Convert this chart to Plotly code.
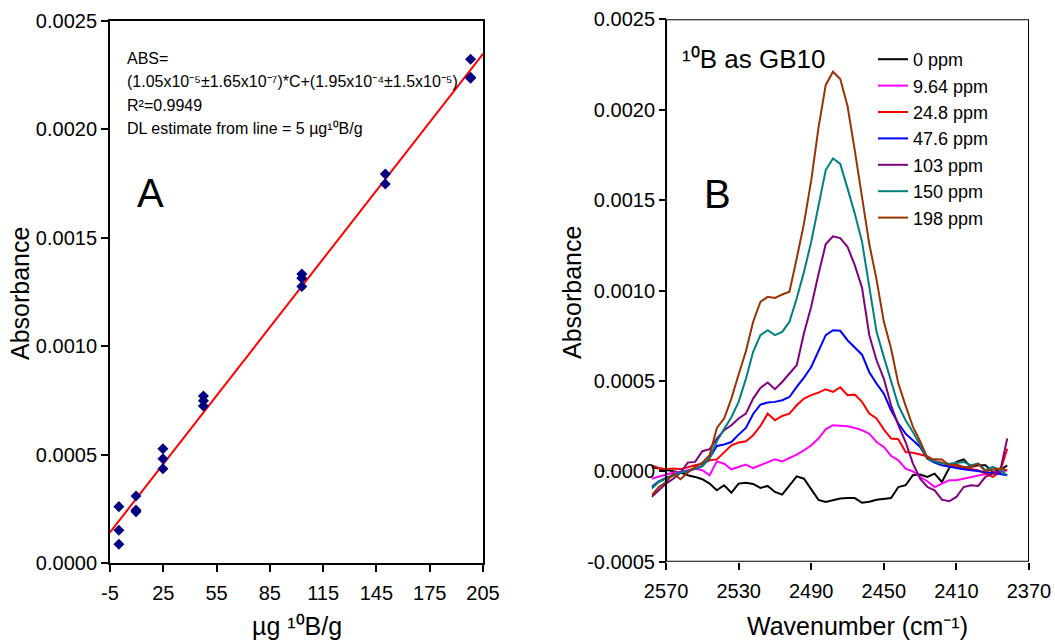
import numpy as np
import plotly.graph_objects as go

W, H = 1055, 641
FONT = "Liberation Sans, Arial, sans-serif"

# ---- Panel A: calibration points (ug 10B/g vs absorbance) ----
conc_a = [0, 0, 0, 9.64, 9.64, 9.64, 24.8, 24.8, 24.8, 47.6, 47.6, 47.6,
          103, 103, 103, 150, 150, 198, 198, 198]
abs_a = [0.000261, 0.000152, 0.0000875, 0.000310, 0.000245, 0.000238,
         0.000528, 0.000482, 0.000436, 0.000771, 0.000749, 0.000725,
         0.001333, 0.001313, 0.001275, 0.001794, 0.001748,
         0.002322, 0.002239, 0.002235]
fit_slope = 1.05e-5
fit_intercept = 1.95e-4
fit_x = [-5, 205]
a_xticks = [-5, 25, 55, 85, 115, 145, 175, 205]
a_xlabels = ["-5", "25", "55", "85", "115", "145", "175", "205"]
a_yticks = [0, 0.0005, 0.0010, 0.0015, 0.0020, 0.0025]
a_ylabels = ["0.0000", "0.0005", "0.0010", "0.0015", "0.0020", "0.0025"]

# ---- Panel B: spectra, absorbance in units of 1e-4 ----
SCALE = 1e-4
wavenumber = [2578, 2574, 2570, 2566, 2562, 2558, 2554, 2550, 2546, 2542,
              2538, 2534, 2530, 2526, 2522, 2518, 2514, 2510, 2506, 2502,
              2498, 2494, 2490, 2486, 2482, 2478, 2474, 2470, 2466, 2462,
              2458, 2454, 2450, 2446, 2442, 2438, 2434, 2430, 2426, 2422,
              2418, 2414, 2410, 2406, 2402, 2398, 2394, 2390, 2386, 2382]

spec_0 = [0.24, 0.15, 0.06, 0.00, -0.07, -0.22, -0.31, -0.44, -0.68, -1.05,
          -0.77, -1.18, -0.68, -0.63, -0.70, -0.92, -0.81, -1.14, -1.29, -0.77,
          -0.28, -0.41, -0.96, -1.58, -1.70, -1.62, -1.51, -1.48, -1.48, -1.74,
          -1.68, -1.57, -1.51, -1.48, -0.87, -0.77, -0.22, -0.18, -0.31, -0.13,
          -0.59, 0.18, 0.52, 0.66, 0.24, 0.33, 0.33, -0.04, 0.06, 0.33]
spec_964 = [-0.41, -0.31, -0.18, -0.07, -0.04, 0.06, 0.15, 0.06, -0.22, 0.55,
            0.42, 0.11, 0.24, 0.37, 0.18, 0.33, 0.52, 0.66, 0.55, 0.74,
            0.92, 1.16, 1.44, 1.81, 2.32, 2.55, 2.51, 2.49, 2.40, 2.27,
            2.08, 1.62, 1.35, 0.85, 0.61, 0.15, 0.00, -0.31, -0.55, -0.87,
            -0.68, -0.50, -0.50, -0.41, -0.31, -0.22, -0.15, -0.07, -0.04, 0.06]
spec_248 = [0.33, 0.18, 0.11, 0.15, 0.11, 0.24, 0.33, 0.42, 0.61, 0.66,
            1.07, 1.44, 1.59, 1.66, 1.99, 2.51, 3.19, 2.82, 3.06, 3.19,
            3.65, 4.02, 4.21, 4.35, 4.54, 4.39, 4.65, 4.21, 4.24, 3.84,
            3.19, 2.92, 2.32, 1.81, 1.77, 1.07, 1.03, 0.92, 0.83, 0.57,
            0.48, 0.33, 0.28, 0.18, 0.11, 0.06, -0.13, -0.31, -0.04, 1.25]
spec_476 = [-0.87, -0.55, -0.37, -0.22, -0.07, 0.00, 0.15, 0.28, 0.74, 1.40,
            1.48, 1.62, 2.03, 2.40, 3.17, 3.69, 3.80, 3.84, 3.93, 4.11,
            4.67, 5.18, 5.77, 6.61, 7.53, 7.80, 7.77, 7.25, 6.86, 6.45,
            5.48, 4.85, 4.30, 3.38, 2.64, 2.08, 1.72, 1.35, 0.70, 0.48,
            0.33, 0.24, 0.18, 0.11, 0.06, 0.00, -0.04, -0.07, -0.15, -0.22]
spec_103 = [-1.42, -1.05, -0.68, -0.41, -0.07, 0.48, 0.52, 1.11, 1.22, 1.81,
            2.27, 2.55, 2.92, 3.19, 4.02, 4.61, 4.91, 4.54, 4.94, 5.41,
            5.87, 7.64, 9.11, 10.90, 12.57, 13.00, 12.90, 12.42, 11.40, 10.15,
            7.53, 6.14, 5.13, 3.65, 2.55, 1.62, 0.44, -0.41, -0.87, -1.05,
            -1.57, -1.66, -1.42, -0.87, -0.77, -0.81, -0.31, -0.13, -0.04, 1.81]
spec_150 = [-0.96, -0.59, -0.41, -0.26, -0.07, 0.00, 0.15, 0.28, 0.74, 1.66,
            2.34, 2.99, 3.84, 5.11, 6.61, 7.53, 7.80, 7.53, 7.71, 8.27,
            9.56, 11.03, 12.70, 14.60, 16.66, 17.30, 17.00, 15.65, 14.26, 12.69,
            10.30, 7.71, 6.33, 4.94, 3.65, 2.82, 2.18, 1.44, 0.70, 0.55,
            0.42, 0.42, 0.48, 0.52, 0.33, 0.42, 0.06, 0.24, 0.06, -0.22]
spec_198 = [-1.33, -0.87, -0.59, -0.13, -0.44, -0.07, 0.24, 0.48, 0.89, 2.40,
            2.92, 4.02, 5.35, 6.64, 8.27, 9.37, 9.65, 9.59, 9.78, 9.93,
            11.77, 13.70, 16.09, 19.00, 21.37, 22.10, 21.70, 20.20, 17.75, 15.17,
            12.57, 10.60, 8.28, 6.79, 4.85, 3.63, 2.47, 1.66, 0.74, 0.66,
            0.65, 0.33, 0.37, 0.24, 0.24, 0.42, 0.00, 0.11, 0.15, 0.06]

series_names = ["0 ppm", "9.64 ppm", "24.8 ppm", "47.6 ppm", "103 ppm", "150 ppm", "198 ppm"]
series_values = [spec_0, spec_964, spec_248, spec_476, spec_103, spec_150, spec_198]
series_colors = ["#000000", "#FF00FF", "#FF0000", "#0000FF", "#800080", "#008080", "#993300"]
b_xticks = [2570, 2530, 2490, 2450, 2410, 2370]
b_yticks = [-0.0005, 0, 0.0005, 0.0010, 0.0015, 0.0020, 0.0025]
b_ylabels = ["-0.0005", "0.0000", "0.0005", "0.0010", "0.0015", "0.0020", "0.0025"]


def px(x):
    return x / W


def py(y):
    return 1 - y / H


fig = go.Figure()

# Panel A traces: fitted line and replicate measurements
fit_y = [fit_slope * c + fit_intercept for c in fit_x]
fig.add_trace(go.Scatter(x=fit_x, y=fit_y, mode="lines",
                         line=dict(color="#FF0000", width=2),
                         xaxis="x", yaxis="y", showlegend=False, hoverinfo="skip"))
fig.add_trace(go.Scatter(x=conc_a, y=abs_a, mode="markers",
                         marker=dict(symbol="diamond", size=8.5, color="#000080"),
                         xaxis="x", yaxis="y", showlegend=False))

# Panel B traces: one spectrum per concentration
for name, vals, col in zip(series_names, series_values, series_colors):
    fig.add_trace(go.Scatter(x=wavenumber, y=np.array(vals) * SCALE, mode="lines",
                             name=name, line=dict(color=col, width=2),
                             xaxis="x2", yaxis="y2"))

tickfont = dict(family=FONT, size=20, color="black")
axis_common = dict(showgrid=False, zeroline=False, ticks="outside", ticklen=7,
                   tickwidth=2, tickcolor="black", tickfont=tickfont,
                   tickmode="array", automargin=False)

fig.update_layout(
    width=W, height=H,
    margin=dict(l=0, r=0, t=0, b=0, autoexpand=False),
    paper_bgcolor="white", plot_bgcolor="white",
    font=dict(family=FONT, color="black"),
    xaxis=dict(domain=[px(110), px(483)], range=[-5, 205],
               tickvals=a_xticks, ticktext=a_xlabels, ticklabelstandoff=4,
               showline=True, mirror=True, linewidth=2, linecolor="black",
               anchor="y", **axis_common),
    yaxis=dict(domain=[py(563.3), py(20.7)], range=[0, 0.0025],
               tickvals=a_yticks, ticktext=a_ylabels,
               showline=True, mirror=True, linewidth=2,
               linecolor="black", anchor="x", **axis_common),
    xaxis2=dict(domain=[px(651.7), px(1029)], range=[2577.9, 2370],
                tickvals=b_xticks, ticktext=[str(t) for t in b_xticks],
                ticklabelstandoff=4, showline=False, anchor="y2", **axis_common),
    yaxis2=dict(domain=[py(561.7), py(19.3)], range=[-0.0005, 0.0025],
                tickvals=b_yticks, ticktext=b_ylabels,
                showline=False, anchor="free", position=px(666),
                **axis_common),
    legend=dict(x=px(873), y=py(41), xanchor="left", yanchor="top",
                font=dict(family=FONT, size=18, color="black"),
                bgcolor="rgba(0,0,0,0)", itemwidth=30, tracegroupgap=0),
    showlegend=True,
)

# Frame of panel B (spectra start slightly left of the 2570 edge)
fig.add_shape(type="rect", xref="x2", yref="y2", x0=2570, x1=2370, y0=-0.0005, y1=0.0025,
              line=dict(color="black", width=2), layer="above")


def note(text, x, y, size, xanchor="left", angle=0):
    fig.add_annotation(text=text, x=px(x), y=py(y), xref="paper", yref="paper",
                       xanchor=xanchor, yanchor="middle", showarrow=False,
                       textangle=angle, font=dict(family=FONT, size=size, color="black"))


# Panel A text
note("ABS=", 125, 58.5, 16)
note("(1.05x10⁻⁵±1.65x10⁻⁷)*C+(1.95x10⁻⁴±1.5x10⁻⁵)", 125, 81.5, 16)
note("R²=0.9949", 125, 105, 16)
note("DL estimate from line = 5 µg¹⁰B/g", 125, 128, 16)
note("A", 150, 193, 40, xanchor="center")
note("Absorbance", 20, 294, 25, xanchor="center", angle=-90)
note("µg ¹⁰B/g", 296.5, 626, 25, xanchor="center")

# Panel B text
note("¹⁰B as GB10", 680, 59, 26)
note("B", 717.5, 194, 40, xanchor="center")
note("Absorbance", 572, 293, 25, xanchor="center", angle=-90)
note("Wavenumber (cm⁻¹)", 857.5, 626, 25, xanchor="center")

fig.write_html("out.html")
